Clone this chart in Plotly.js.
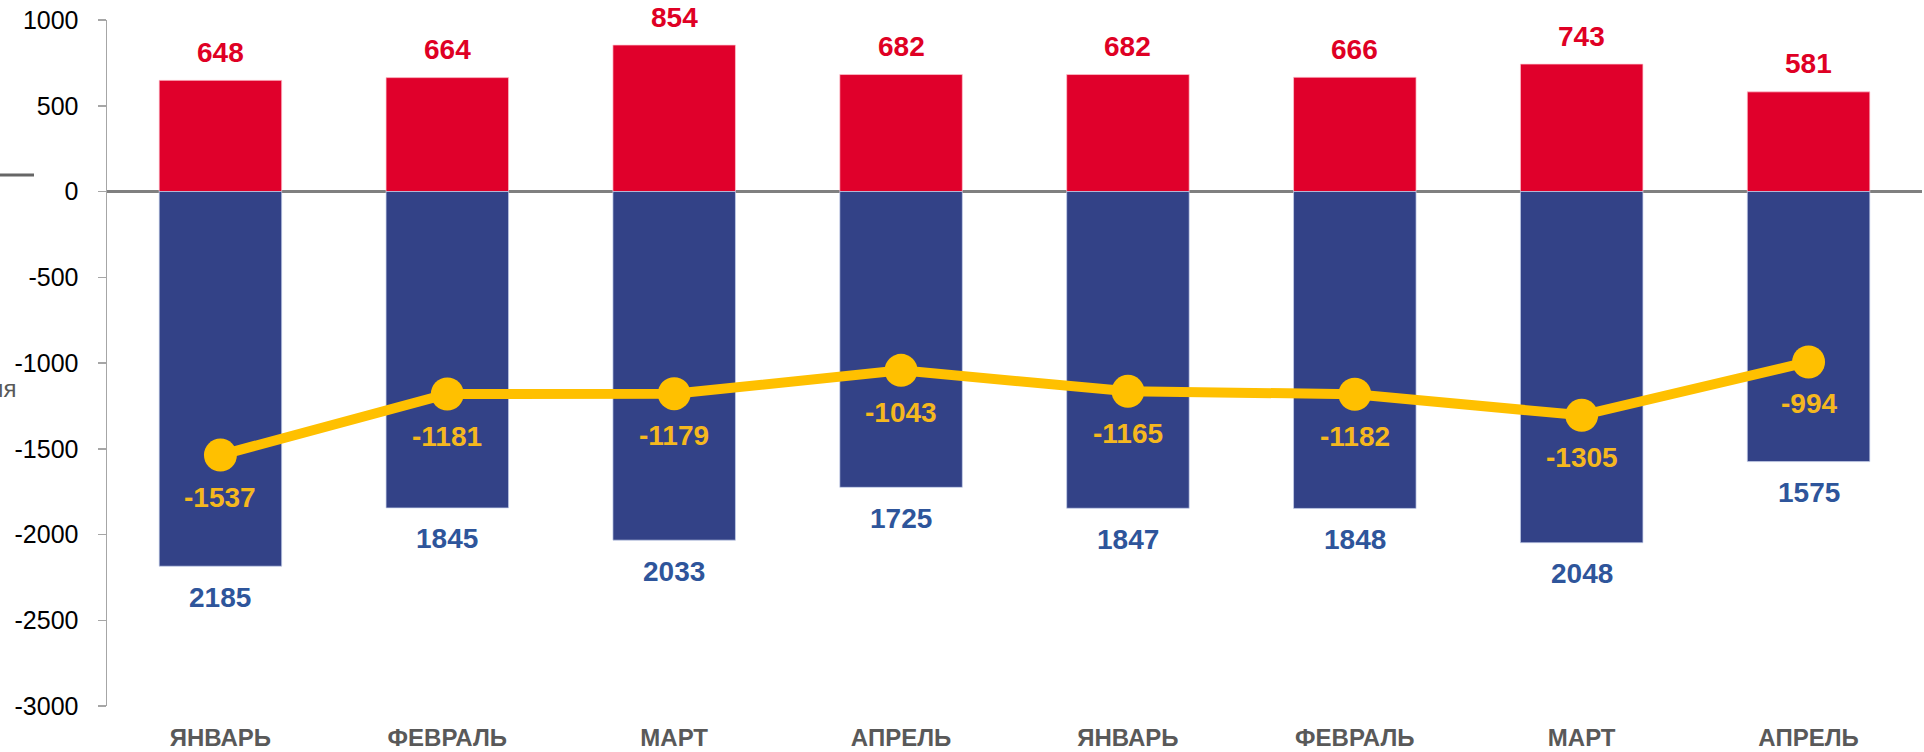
<!DOCTYPE html>
<html>
<head>
<meta charset="utf-8">
<script src="https://cdn.plot.ly/plotly-3.0.1.min.js"></script>
<style>html,body{margin:0;padding:0;background:#fff;}#chart{width:1924px;height:752px;}</style>
</head>
<body>
<div id="chart"></div>
<script>
var months = ["ЯНВАРЬ","ФЕВРАЛЬ","МАРТ","АПРЕЛЬ","ЯНВАРЬ","ФЕВРАЛЬ","МАРТ","АПРЕЛЬ"];
var inflow = [648, 664, 854, 682, 682, 666, 743, 581];
var outflow = [2185, 1845, 2033, 1725, 1847, 1848, 2048, 1575];
var balance = [-1537, -1181, -1179, -1043, -1165, -1182, -1305, -994];
var yTicks = [1000, 500, 0, -500, -1000, -1500, -2000, -2500, -3000];

var W = 1924, H = 752;
var mL = 107, mR = 2, mT = 20, mB = 46;
var pw = W - mL - mR, ph = H - mT - mB;
function px2paperX(p){ return (p - mL) / pw; }
function px2paperY(p){ return (H - mB - p) / ph; }

var xIdx = months.map(function(_, i){ return i; });
var FONT = "Liberation Sans, Arial, sans-serif";

var traces = [
  {type:"bar", x:xIdx, y:inflow, marker:{color:"#E0002B", line:{color:"rgba(255,200,210,0.7)", width:1}}, hoverinfo:"y"},
  {type:"bar", x:xIdx, y:outflow.map(function(v){return -v;}), marker:{color:"#334287", line:{color:"rgba(200,210,235,0.7)", width:1}}, hoverinfo:"y"},
  {type:"scatter", mode:"lines+markers", x:xIdx, y:balance, line:{color:"#FFC000", width:10}, marker:{color:"#FFC000", size:33}, hoverinfo:"y"}
];

var ann = [];
xIdx.forEach(function(i){
  ann.push({x:i, y:inflow[i], xref:"x", yref:"y", text:String(inflow[i]), showarrow:false, yshift:28,
    font:{family:FONT, size:28, color:"#DF0024", weight:"bold"}});
  ann.push({x:i, y:-outflow[i], xref:"x", yref:"y", text:String(outflow[i]), showarrow:false, yshift:-31,
    font:{family:FONT, size:28, color:"#2E559B", weight:"bold"}});
  ann.push({x:i, y:balance[i], xref:"x", yref:"y", text:String(balance[i]), showarrow:false, yshift:-42,
    font:{family:FONT, size:28, color:"#F5B81E", weight:"bold"}});
});
ann.push({xref:"paper", yref:"paper", x:px2paperX(18), y:px2paperY(389), xanchor:"right", yanchor:"middle",
  text:"ия", showarrow:false, font:{family:FONT, size:24, color:"#595959"}});

var layout = {
  width:W, height:H,
  margin:{l:mL, r:mR, t:mT, b:mB, pad:0},
  paper_bgcolor:"#fff", plot_bgcolor:"#fff",
  showlegend:false,
  barmode:"relative",
  bargap:0.46,
  font:{family:FONT, color:"#000"},
  xaxis:{
    range:[-0.5, 7.5], tickvals:xIdx, ticktext:months,
    showgrid:false, zeroline:false, showline:false, ticks:"",
    tickfont:{family:FONT, size:24, color:"#595959", weight:"bold"},
    ticklabelstandoff:15, fixedrange:true
  },
  yaxis:{
    range:[-3000, 1000], tickvals:yTicks, ticktext:yTicks.map(String),
    showgrid:false, zeroline:true, zerolinecolor:"#808080", zerolinewidth:3,
    showline:true, linecolor:"#A6A6A6", linewidth:1.5,
    ticks:"outside", ticklen:8, tickcolor:"#A6A6A6", tickwidth:1.5,
    tickfont:{family:FONT, size:25, color:"#000"},
    ticklabelstandoff:14, layer:"above traces", fixedrange:true
  },
  shapes:[
    {type:"line", xref:"paper", yref:"paper", x0:px2paperX(0), x1:px2paperX(34), y0:px2paperY(175), y1:px2paperY(175),
     line:{color:"#666666", width:3}}
  ],
  annotations:ann
};

Plotly.newPlot("chart", traces, layout, {displayModeBar:false, staticPlot:true});
</script>
</body>
</html>
